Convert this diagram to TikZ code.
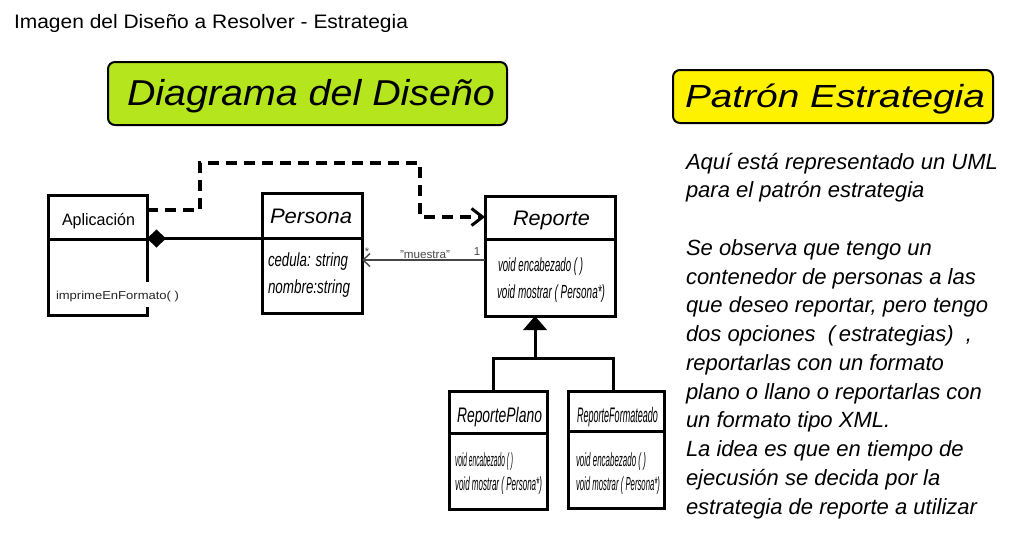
\documentclass[tikz,border=0pt]{standalone}
\usepackage{fontspec}
\setmainfont{Liberation Sans}
\usetikzlibrary{arrows.meta}
\definecolor{limefill}{RGB}{181,230,29}
\definecolor{yelfill}{RGB}{255,242,0}
\definecolor{assoc}{RGB}{70,70,70}
\newcommand{\fitw}[2]{\resizebox{#1pt}{\height}{#2}}
\newcommand{\fsz}[1]{\fontsize{#1}{#1}\selectfont}
\begin{document}
\begin{tikzpicture}[x=1pt,y=-1pt,
  cls/.style={draw, line width=3pt, inner sep=0, outer sep=0},
  lbl/.style={inner sep=0, outer sep=0, anchor=base west},
  hd/.style={lbl, font=\fsz{21}\itshape},
  mt/.style={lbl, font=\fsz{19}\itshape},
  smt/.style={lbl, font=\fsz{19}\itshape},
  rt/.style={lbl, font=\fsz{22}\itshape},
  divl/.style={line width=3pt},
  banner/.style={draw, line width=2pt, rounded corners=7pt, inner sep=0},
  dsh/.style={line width=3.2pt, dash pattern=on 11pt off 7pt, -{Straight Barb[length=11pt,width=17pt,line width=3pt]}}
]
\useasboundingbox (0,0) rectangle (1025,541);
\fill[white] (0,0) rectangle (1025,541);

% caption
\node[lbl, font=\fsz{19.5}] (cap) at (14,28.5) {\fitw{394}{Imagen del Diseño a Resolver - Estrategia}};

% banners
\node[banner, fill=limefill, minimum width=399pt, minimum height=63pt] (b1) at (307.5,93.5) {};
\node[lbl, font=\fsz{36}\itshape] (b1t) at (127,105.5) {\fitw{368}{Diagrama del Diseño}};
\node[banner, fill=yelfill, minimum width=320pt, minimum height=53pt] (b2) at (833,96.5) {};
\node[lbl, font=\fsz{32}\itshape] (b2t) at (685,107.5) {\fitw{300}{Patrón Estrategia}};

% Aplicacion
\node[minimum width=99pt, minimum height=120pt, inner sep=0] (apl) at (97.5,255) {};
\draw[line width=3pt] (147,282) -- (147,195) -- (48,195) -- (48,315) -- (147,315) -- (147,307);
\draw[divl] (48,239) -- (147,239);
\node[lbl, font=\fsz{16.5}] (aplt) at (62,225) {\fitw{73}{Aplicación}};
\node[lbl, font=\fsz{11.5}, text=black!85] (aplm) at (56,299.5) {\fitw{123}{imprimeEnFormato( )}};

% Persona
\node[cls, minimum width=100pt, minimum height=120pt] (per) at (312,253) {};
\draw[divl] (262,238) -- (362,238);
\node[hd] (pert) at (270,223) {\fitw{82}{Persona}};
\node[mt] (pera1) at (268,266.5) {\fitw{80}{cedula: string}};
\node[mt] (pera2) at (268,293.5) {\fitw{82}{nombre:string}};

% Reporte
\node[cls, minimum width=130pt, minimum height=120pt] (rep) at (550,256) {};
\draw[divl] (485,239) -- (615,239);
\node[hd] (rept) at (513,225) {\fitw{77}{Reporte}};
\node[mt] (repm1) at (498,271.5) {\fitw{85}{void encabezado ( )}};
\node[mt] (repm2) at (497,298.5) {\fitw{108}{void mostrar ( Persona*)}};

% ReportePlano
\node[cls, minimum width=98pt, minimum height=118pt] (rpl) at (498,450) {};
\draw[divl] (449,433) -- (547,433);
\node[hd] (rpt) at (457,422) {\fitw{85}{ReportePlano}};
\node[smt] (rpm1) at (455,466) {\fitw{58}{void encabezado ( )}};
\node[smt] (rpm2) at (455,490) {\fitw{87}{void mostrar ( Persona*)}};

% ReporteFormateado
\node[cls, minimum width=96pt, minimum height=117pt] (rfm) at (616,449.5) {};
\draw[divl] (568,431) -- (664,431);
\node[hd] (rft) at (577,422) {\fitw{81}{ReporteFormateado}};
\node[smt] (rfm1) at (576,466) {\fitw{70}{void encabezado ( )}};
\node[smt] (rfm2) at (576,490) {\fitw{84}{void mostrar ( Persona*)}};

% composition
\coordinate (c1) at (147,238.5);
\draw[line width=3pt, {Diamond[length=19pt,width=18pt,line width=0pt]}-] (c1) -- (c1 -| per.west);

% dependency
\coordinate (d0) at (147,210);
\coordinate (d1) at (485,217);
\draw[dsh] (d0) -| (200,163) -| (420,217) -- (d1);

% association
\coordinate (a1) at (485,260);
\draw[assoc, line width=1.4pt, -{Straight Barb[length=7pt,width=13pt,line width=1.4pt]}] (a1) -- (a1 -| per.east);
\node[font=\fsz{11}, text=assoc, inner sep=0] (mul1) at (367,252) {*};
\node[lbl, font=\fsz{11.5}, text=assoc] (lm) at (400,258) {\fitw{50}{"muestra"}};
\node[font=\fsz{11.5}, text=assoc, inner sep=0] (mul2) at (477,252) {1};

% generalization
\coordinate (g0) at (535,358);
\coordinate (h1) at (493,358);
\coordinate (h2) at (613,358);
\draw[line width=3pt, -{Triangle[length=14pt,width=24pt,line width=0pt]}] (g0) -- (g0 |- rep.south);
\draw[line width=3pt] (h1 |- rpl.north) -- (h1) -- (h2) -- (h2 |- rfm.north);

% right text
\node[rt] (t1) at (686,169) {Aquí está representado un UML};
\node[rt] (t2) at (686,197.75) {para el patrón estrategia};
\node[rt] (t3) at (686,255.25) {Se observa que tengo un};
\node[rt] (t4) at (686,284) {contenedor de personas a las};
\node[rt] (t5) at (686,312.75) {que deseo reportar, pero tengo};
\node[rt] (t6) at (686,341.5) {dos opciones \ (\,estrategias)\ \ ,};
\node[rt] (t7) at (686,370.25) {reportarlas con un formato};
\node[rt] (t8) at (686,399) {plano o llano o reportarlas con};
\node[rt] (t9) at (686,427.75) {un formato tipo XML.};
\node[rt] (t10) at (686,456.5) {La idea es que en tiempo de};
\node[rt] (t11) at (686,485.25) {ejecusión se decida por la};
\node[rt] (t12) at (686,514) {estrategia de reporte a utilizar};
\end{tikzpicture}
\end{document}
